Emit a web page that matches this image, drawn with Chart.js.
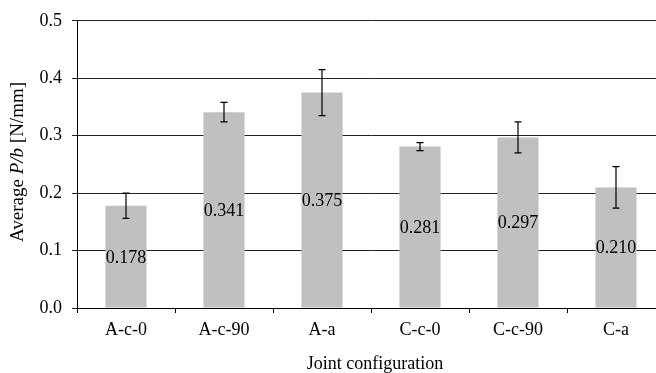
<!DOCTYPE html>
<html>
<head>
<meta charset="utf-8">
<script src="https://cdn.jsdelivr.net/npm/chart.js@4"></script>
<style>
  html, body { margin: 0; padding: 0; background: #fff; overflow: hidden; }
  #wrap { width: 666px; height: 373px; }
</style>
</head>
<body>
<div id="wrap"><canvas id="myBarChart"></canvas></div>
<script>
var labels = ['A-c-0', 'A-c-90', 'A-a', 'C-c-0', 'C-c-90', 'C-a'];
var values = [0.178, 0.341, 0.375, 0.281, 0.297, 0.210];
var errors = [0.022, 0.017, 0.040, 0.007, 0.027, 0.036];
var yTicks = [0.0, 0.1, 0.2, 0.3, 0.4, 0.5];

var FONT = "'Liberation Serif', 'Times New Roman', serif";

// error bars, value labels and axis titles
var extras = {
    id: 'extras',
    afterDatasetsDraw: function (chart) {
        var c = chart.ctx;
        var x = chart.scales.x, y = chart.scales.y;
        c.save();
        c.strokeStyle = '#000';
        c.lineWidth = 1.2;
        values.forEach(function (v, i) {
            var px = x.getPixelForValue(i);
            var top = y.getPixelForValue(v + errors[i]);
            var bot = y.getPixelForValue(v - errors[i]);
            c.beginPath();
            c.moveTo(px, top); c.lineTo(px, bot);
            c.moveTo(px - 3.5, top); c.lineTo(px + 3.5, top);
            c.moveTo(px - 3.5, bot); c.lineTo(px + 3.5, bot);
            c.stroke();
        });
        c.fillStyle = '#000';
        c.font = '18px ' + FONT;
        c.textAlign = 'center';
        c.textBaseline = 'middle';
        values.forEach(function (v, i) {
            c.fillText(v.toFixed(3), x.getPixelForValue(i), y.getPixelForValue(v / 2) + 1);
        });
        // x title
        c.textBaseline = 'alphabetic';
        c.fillText('Joint configuration', 375, 369);
        // y title with italic P/b
        c.translate(18, 162);
        c.rotate(-Math.PI / 2);
        var parts = [
            ['Average ', '19px ' + FONT],
            ['P/b', 'italic 19px ' + FONT],
            [' [N/mm]', '19px ' + FONT]
        ];
        var total = 0;
        parts.forEach(function (p) { c.font = p[1]; total += c.measureText(p[0]).width; });
        var cx = -total / 2;
        c.textAlign = 'left';
        c.textBaseline = 'middle';
        parts.forEach(function (p) {
            c.font = p[1];
            c.fillText(p[0], cx, 0);
            cx += c.measureText(p[0]).width;
        });
        c.restore();
    }
};

var ctx = document.getElementById('myBarChart');
var myChart = new Chart(ctx, {
    type: 'bar',
    data: {
        labels: labels,
        datasets: [{
            data: values,
            backgroundColor: '#c0c0c0',
            borderWidth: 0,
            categoryPercentage: 1.0,
            barPercentage: 0.42
        }]
    },
    options: {
        responsive: true,
        maintainAspectRatio: false,
        animation: false,
        layout: { padding: { top: 19, right: 1, left: 0, bottom: 0 } },
        plugins: {
            legend: { display: false },
            tooltip: { enabled: false }
        },
        scales: {
            x: {
                grid: { offset: true, drawOnChartArea: false, color: '#000', tickLength: 5 },
                border: { color: '#000', width: 1 },
                ticks: { color: '#000', font: { family: FONT, size: 18 }, padding: 6, maxRotation: 0 },
                afterFit: function (s) { s.height = 65; }
            },
            y: {
                min: 0,
                max: 0.5,
                afterBuildTicks: function (s) { s.ticks = yTicks.map(function (v) { return { value: v }; }); },
                grid: { color: '#222', tickLength: 5 },
                border: { color: '#000', width: 1 },
                ticks: {
                    color: '#000',
                    font: { family: FONT, size: 18 },
                    padding: 10,
                    callback: function (v) { return v.toFixed(1); }
                },
                afterFit: function (s) { s.width = 77; }
            }
        }
    },
    plugins: [extras]
});
</script>
</body>
</html>
